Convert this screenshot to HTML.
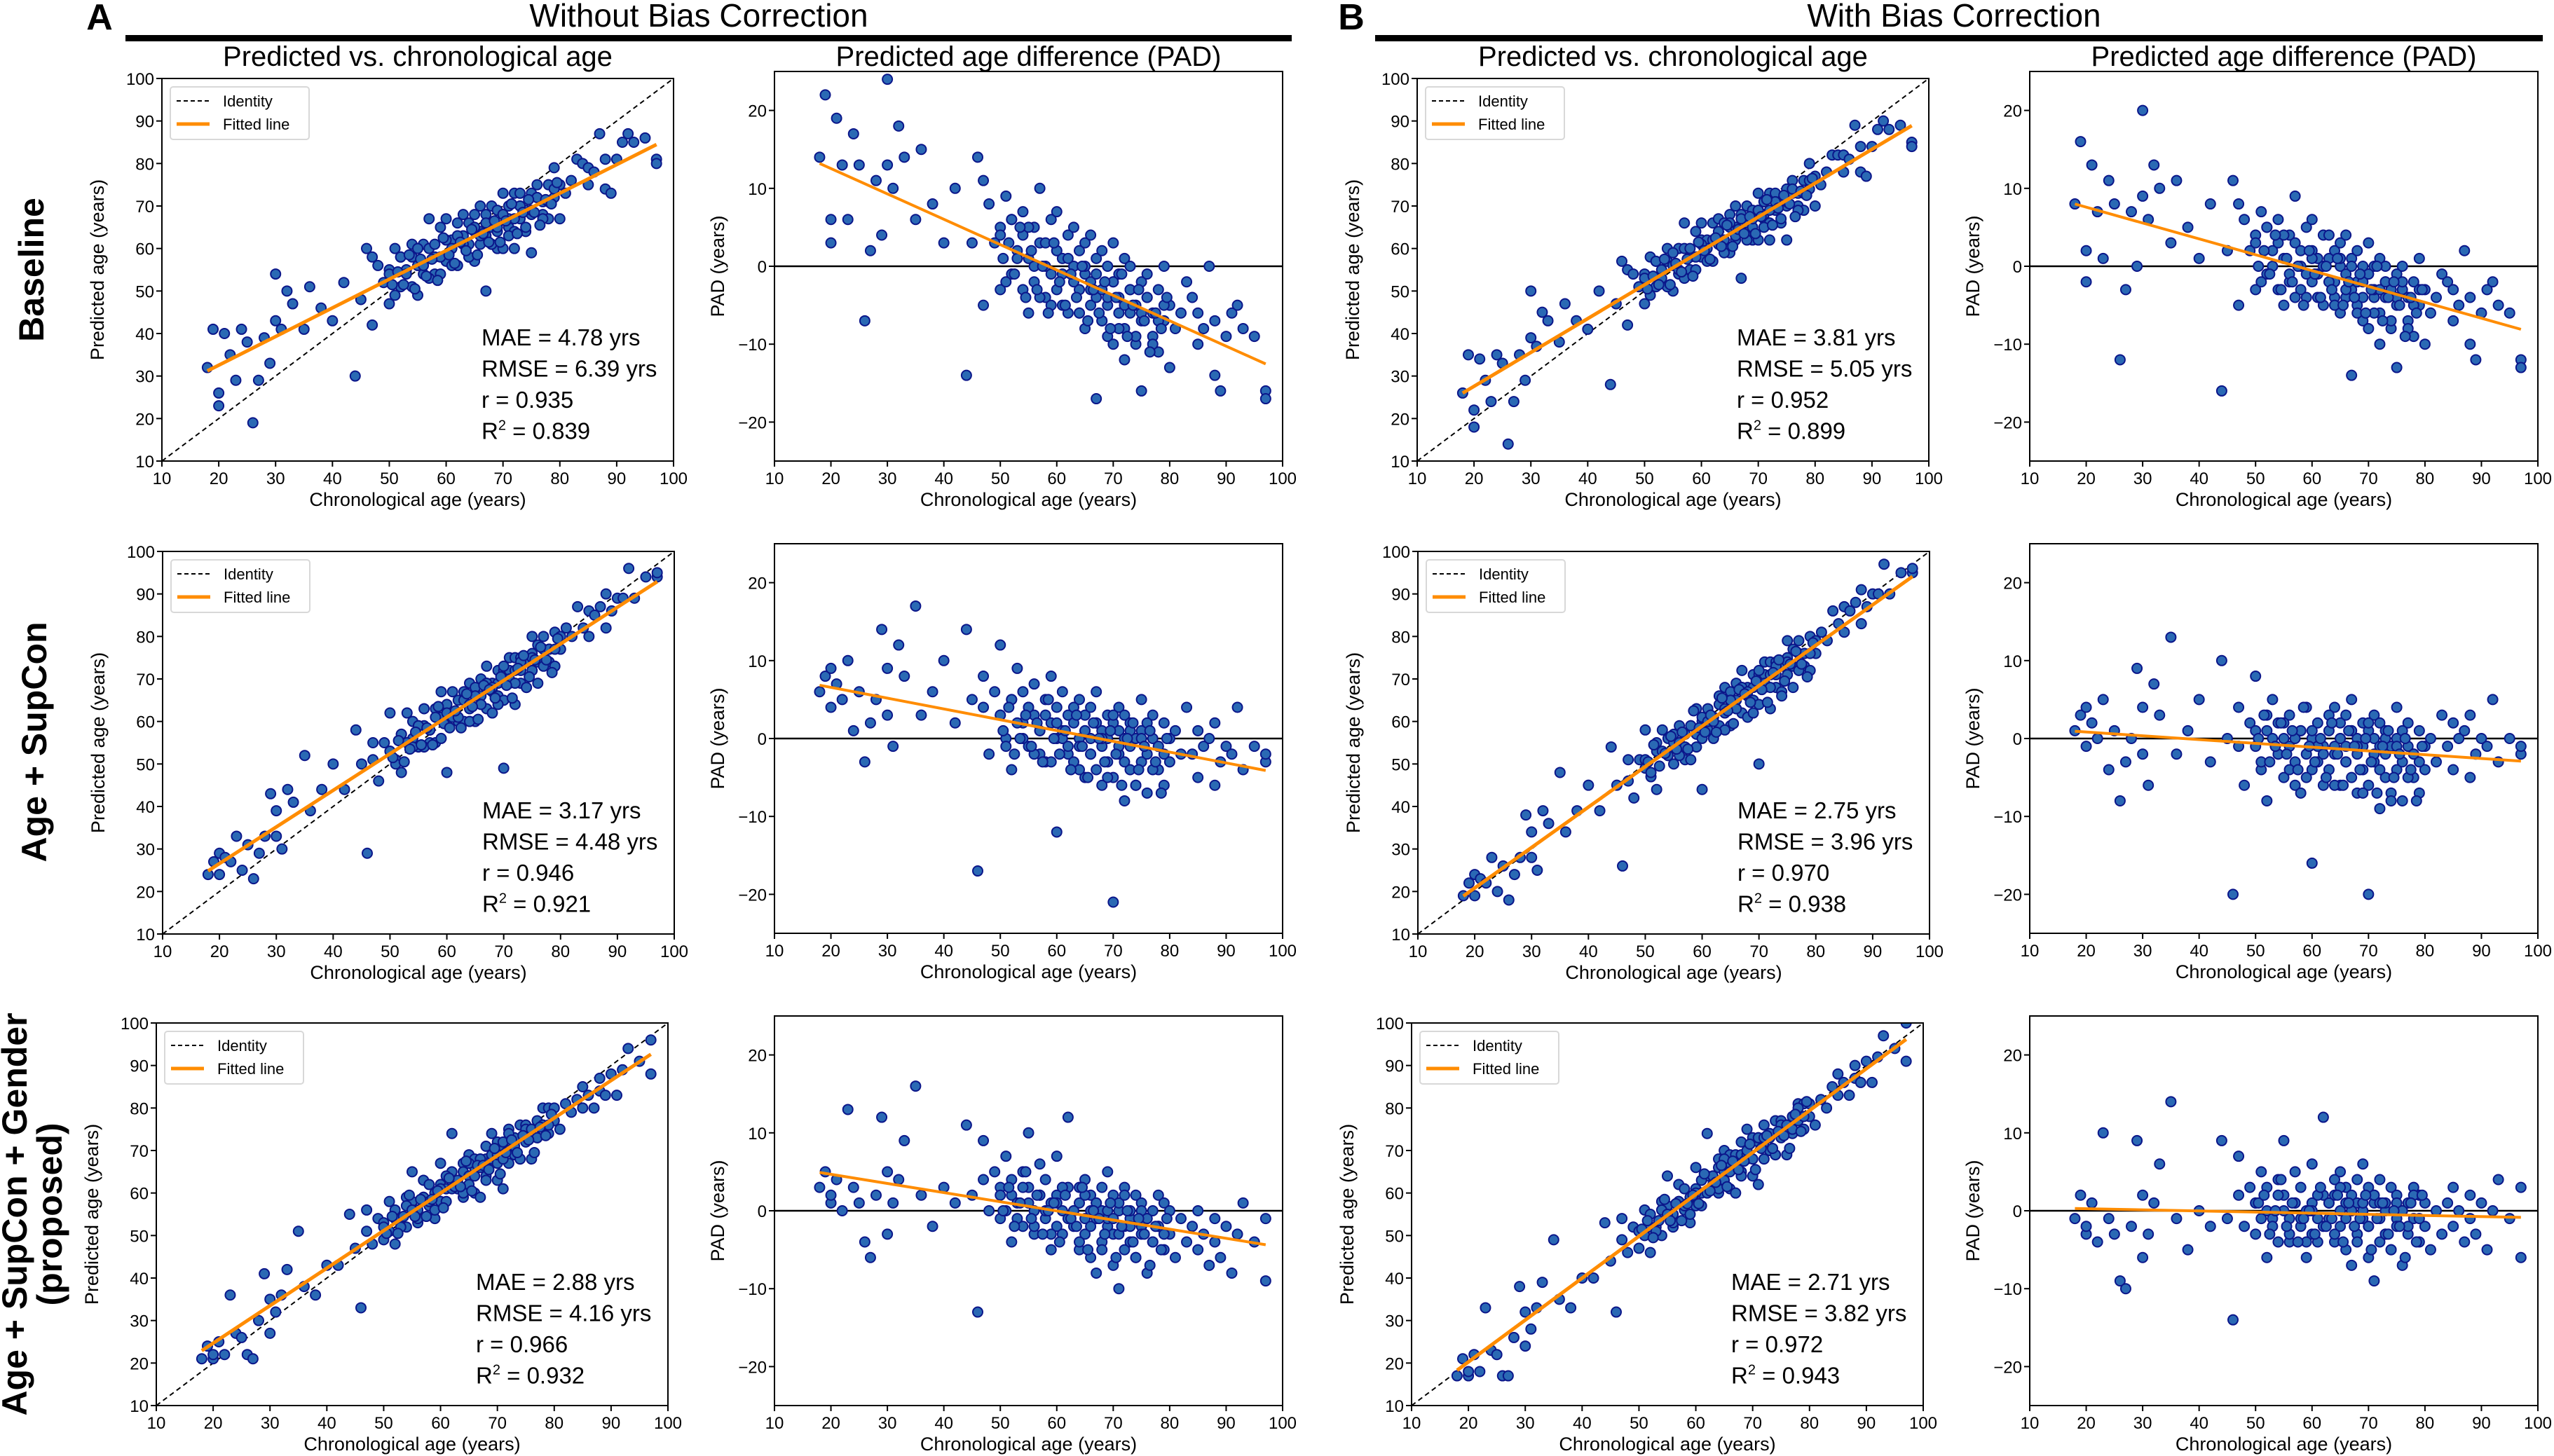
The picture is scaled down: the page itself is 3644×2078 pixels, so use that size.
<!DOCTYPE html>
<html><head><meta charset="utf-8">
<style>
html,body{margin:0;padding:0;background:#fff;}
svg{display:block;font-family:"Liberation Sans",sans-serif;}
</style></head>
<body>
<svg id="fig" width="3644" height="2078" viewBox="0 0 3644 2078" xmlns="http://www.w3.org/2000/svg">
  <g>
    <text x="142" y="42" font-size="52" font-weight="bold" text-anchor="middle">A</text>
    <text x="997" y="38" font-size="46" text-anchor="middle">Without Bias Correction</text>
    <rect x="179" y="50" width="1664" height="9" fill="#000"/>
  </g>
  <g>
    <text x="1928" y="42" font-size="52" font-weight="bold" text-anchor="middle">B</text>
    <text x="2788" y="38" font-size="46" text-anchor="middle">With Bias Correction</text>
    <rect x="1962" y="50" width="1666" height="9" fill="#000"/>
  </g>
  <text transform="translate(62,385) rotate(-90)" font-size="50" font-weight="bold" text-anchor="middle">Baseline</text>
  <text transform="translate(66,1059) rotate(-90)" font-size="50" font-weight="bold" text-anchor="middle">Age + SupCon</text>
  <text transform="translate(38,1733) rotate(-90)" font-size="50" font-weight="bold" text-anchor="middle">Age + SupCon + Gender</text>
  <text transform="translate(88,1733) rotate(-90)" font-size="50" font-weight="bold" text-anchor="middle">(proposed)</text>
  <g id="panels"></g>
</svg>
<script>
// ---- data (chronological ages shared by all models) ----
const ages = [18,19,20,20,21,22,23,24,25,26,27,28,29,30,30,31,32,33,35,36,38,40,42,44,45,
46,47,47,48,49,50,50,51,52,52,53,54,54,55,55,56,56,57,57,58,58,59,59,60,60,60,61,61,62,62,
63,63,64,64,64,65,65,65,66,66,66,67,67,67,68,68,68,69,69,69,70,70,70,71,71,71,72,72,72,73,73,73,74,74,75,75,75,76,76,77,77,78,78,79,79,80,80,81,82,83,
84,85,85,86,87,88,88,89,90,91,92,93,95,97,97,
50,51,52,53,54,55,56,57,58,59,60,61,62,63,64,65,66,67,68,69,70,71,72,73,74,75,76,77,78,79,
50.5,51.5,52.5,53.5,54.5,55.5,56.5,57.5,58.5,59.5,60.5,61.5,62.5,63.5,64.5,65.5,66.5,67.5,68.5,69.5,70.5,71.5,72.5,73.5,74.5,75.5,76.5,77.5,78.5,79.5];
// PAD (predicted - chronological), without bias correction
const padBaseline = [14,22,6,3,19,13,6,17,13,-7,2,11,4,24,13,10,18,14,6,15,8,3,10,-14,3,
14,-5,11,8,3,5,-3,9,6,-1,2,4,7,-6,1,5,-2,3,10,-4,0,6,-5,2,7,-3,1,-1,4,-6,
0,5,-3,2,-6,-1,3,-8,-2,4,-5,-17,1,-4,-7,2,-3,-9,0,-5,-2,-10,3,-6,-1,-4,-12,1,-8,-3,-6,0,-10,-5,-2,-7,-16,-4,-1,-9,-6,-3,-11,-7,0,-5,-13,-8,-6,-2,
-4,-10,-6,-8,0,-14,-7,-16,-9,-6,-5,-8,-9,-16,-17,
4,-2,6,1,-3,5,0,-4,3,-1,2,-5,1,-2,-6,0,-3,-1,-7,-4,-2,-8,-5,-3,-9,-6,-4,-10,-7,-5,
1,3,-1,5,-4,2,-3,0,-6,3,-2,-5,-1,-4,0,-7,-3,-6,-2,-8,-4,-1,-9,-5,-3,-7,-11,-6,-8,-4];
const padSupCon = [6,8,9,4,7,5,10,1,6,-3,2,5,14,3,9,-1,12,8,17,3,6,10,2,14,5,
-17,4,8,-2,6,12,3,0,5,-4,9,2,6,-1,4,7,3,-2,1,5,-3,2,8,0,-12,4,1,6,-2,3,
2,-3,5,0,-1,3,-5,1,4,-2,0,6,-4,2,-6,1,-1,3,-3,0,-21,2,-5,1,4,-2,0,-8,3,-1,-4,2,-6,0,1,-3,5,-2,-7,0,3,-4,-1,2,-6,0,-3,1,-2,4,
-2,1,-5,-1,0,-6,2,-3,-1,-2,4,-4,-1,-3,-2,
3,-1,5,2,0,4,-2,1,3,-3,2,0,-1,4,-4,1,-2,2,0,-5,3,-1,-3,1,-6,0,2,-4,-1,-2,
1,4,-2,0,3,-1,2,-3,5,0,-2,1,-4,3,-1,-5,2,0,-3,1,-2,-6,0,2,-4,-1,1,-3,-7,0];
const padProposed = [3,5,1,2,4,0,13,3,1,-4,-6,2,12,-3,5,1,4,9,16,2,-2,3,1,11,2,
-13,4,9,0,5,-1,3,7,2,-4,1,5,-2,3,10,0,-3,2,6,-1,4,-5,1,2,-2,7,0,-3,3,12,
0,-2,3,-5,1,-1,4,-3,0,2,-6,1,-8,-1,3,-4,0,-2,5,-1,-7,2,-3,0,-10,1,-2,3,-5,-1,0,-4,2,-6,-2,1,-3,-1,-8,0,-4,2,-2,-5,1,-3,0,-6,-1,-4,
-2,-5,0,-3,-7,-1,-4,-6,-2,-8,-3,1,-4,-9,-1,
2,0,4,-1,3,1,-2,2,0,-3,1,3,-1,0,-4,2,-2,1,-5,0,-1,-3,2,-2,-6,0,-1,-4,-2,-3,
0,3,-2,1,5,-1,2,-3,0,1,-4,2,-1,-2,3,-5,0,-1,-3,1,-6,-2,0,-4,-1,-3,-7,-2,-5,-1];
// PAD with bias correction
const padBaselineBC = [8,16,2,-2,13,7,1,11,8,-12,-3,7,0,20,9,6,13,10,3,11,5,1,8,-16,2,
11,-5,8,6,2,4,-3,7,5,-1,2,3,6,-5,1,4,-2,3,9,-3,0,5,-4,2,6,-2,1,-1,4,-5,
1,4,-2,2,-4,0,3,-6,-1,4,-4,-14,1,-3,-5,2,-2,-7,0,-4,-1,-8,3,-4,0,-3,-10,1,-6,-2,-4,0,-8,-3,-1,-5,-13,-3,0,-7,-4,-2,-9,-5,1,-3,-10,-6,-4,-1,
-2,-7,-3,-5,2,-10,-4,-12,-6,-3,-2,-5,-6,-12,-13,
3,-2,5,0,-3,4,-1,-4,2,-1,1,-4,0,-2,-5,1,-3,0,-6,-2,-1,-6,-3,-2,-7,-4,-2,-8,-5,-3,
0,2,-1,4,-3,1,-2,0,-5,2,-1,-4,0,-3,1,-5,-2,-4,-1,-6,-3,0,-7,-4,-2,-5,-9,-4,-6,-3];
const padSupConBC = [1,3,4,-1,2,0,5,-4,1,-8,-3,0,9,-2,4,-6,7,3,13,-2,1,5,-3,10,0,
-20,-1,4,-6,2,8,-1,-4,1,-8,5,-2,2,-5,0,3,-1,-6,-3,1,-7,-2,4,-4,-16,0,-3,2,-6,-1,
1,-4,4,-1,-2,2,-6,0,3,-3,-1,5,-5,1,-7,0,-2,2,-4,-1,-20,1,-6,0,3,-3,-1,-9,2,-2,-5,1,-7,-1,0,-4,4,-3,-8,-1,2,-5,-2,1,-7,-1,-4,0,-3,3,
-1,2,-4,0,1,-5,3,-2,0,-1,5,-3,0,-2,-1,
1,-3,3,0,-2,2,-4,0,1,-5,1,-1,-2,3,-6,0,-3,1,-1,-7,2,-2,-4,0,-8,-1,1,-5,-2,-3,
0,3,-3,-1,2,-2,1,-4,4,-1,-3,0,-5,2,-2,-6,1,-1,-4,0,-3,-7,-1,1,-5,-2,0,-4,-8,-1];
const padProposedBC = [-1,2,-3,-2,1,-4,10,-1,-3,-9,-10,-2,9,-6,2,-3,1,6,14,-1,-5,0,-2,9,-1,
-14,2,7,-2,3,-3,1,5,0,-6,-1,4,-4,2,9,-1,-4,1,5,-2,3,-6,0,1,-3,6,-1,-4,2,12,
1,-1,4,-4,2,0,5,-2,1,3,-5,2,-7,0,4,-3,1,-1,6,0,-6,3,-2,1,-9,2,-1,4,-4,0,1,-3,3,-5,-1,2,-2,0,-7,1,-3,3,-1,-4,2,-2,1,-5,0,-3,
1,-2,3,0,-4,2,-1,-3,1,-5,0,4,-1,-6,3,
1,-1,3,-2,2,0,-3,1,-1,-4,0,2,-2,1,-3,3,-1,0,-4,1,-2,2,1,-3,-5,1,0,-2,2,-1,
1,2,-3,0,4,-2,1,-4,-1,0,-3,3,-2,-1,2,-4,1,-2,-1,2,-5,-1,1,-3,0,-2,-6,1,-4,2];
const statsBaseline = ["MAE = 4.78 yrs","RMSE = 6.39 yrs","r = 0.935","0.839"];
const statsSupCon = ["MAE = 3.17 yrs","RMSE = 4.48 yrs","r = 0.946","0.921"];
const statsProposed = ["MAE = 2.88 yrs","RMSE = 4.16 yrs","r = 0.966","0.932"];
const statsBaselineBC = ["MAE = 3.81 yrs","RMSE = 5.05 yrs","r = 0.952","0.899"];
const statsSupConBC = ["MAE = 2.75 yrs","RMSE = 3.96 yrs","r = 0.970","0.938"];
const statsProposedBC = ["MAE = 2.71 yrs","RMSE = 3.82 yrs","r = 0.972","0.943"];
const xTicks = [10,20,30,40,50,60,70,80,90,100];
const yTicksScatter = [10,20,30,40,50,60,70,80,90,100];
const yTicksPad = [-20,-10,0,10,20];

const NS = "http://www.w3.org/2000/svg";
const root = document.getElementById('panels');
function mk(tag, attrs, parent){
  const e = document.createElementNS(NS, tag);
  for (const k in attrs) e.setAttribute(k, attrs[k]);
  (parent||root).appendChild(e);
  return e;
}
function fit(xs, ys){
  const n = xs.length; let mx=0,my=0;
  for(let i=0;i<n;i++){mx+=xs[i];my+=ys[i];} mx/=n; my/=n;
  let sxy=0,sxx=0;
  for(let i=0;i<n;i++){sxy+=(xs[i]-mx)*(ys[i]-my);sxx+=(xs[i]-mx)**2;}
  const b=sxy/sxx; return [my-b*mx, b];
}
const FILL="#2a69b4", EDGE="#0b168a", ORANGE="#ff8c00";

function scatterPanel(L, T, pads, stats, key, showTitle){
  const W=730, H=546;
  const g = mk('g', {});
  
  
  const sx = v => L + (v-10)/90*W;
  const sy = v => T + H - (v-10)/90*H;
  if(showTitle){
    const t = mk('text',{x:L+W/2,y:T-18,'font-size':40,'text-anchor':'middle'},g);
    t.textContent='Predicted vs. chronological age';
    
    
  }
  const clipId='c'+key;
  const cp = mk('clipPath',{id:clipId},g); mk('rect',{x:L,y:T,width:W,height:H},cp);
  const id = mk('line',{x1:sx(10),y1:sy(10),x2:sx(100),y2:sy(100),stroke:'#000','stroke-width':2,'stroke-dasharray':'7,5'},g);
  
  
  const pg = mk('g',{'clip-path':'url(#'+clipId+')'},g);
  const preds = ages.map((a,i)=>a+pads[i]);
  for(let i=0;i<ages.length;i++){
    const c = mk('circle',{cx:sx(ages[i]),cy:sy(preds[i]),r:7,fill:FILL,stroke:EDGE,'stroke-width':2},pg);
    
    
  }
  const [a,b] = fit(ages,preds);
  const x0=Math.min(...ages), x1=Math.max(...ages);
  const fl = mk('line',{x1:sx(x0),y1:sy(a+b*x0),x2:sx(x1),y2:sy(a+b*x1),stroke:ORANGE,'stroke-width':5},g);
  
  
  axes(g,L,T,W,H,sx,sy,yTicksScatter,'Predicted age (years)',L-83);
  const lg = mk('g',{},g);
  
  
  mk('rect',{x:L+12,y:T+12,width:198,height:75,rx:4,fill:'#fff',stroke:'#d8d8d8','stroke-width':2},lg);
  mk('line',{x1:L+21,y1:T+32,x2:L+68,y2:T+32,stroke:'#000','stroke-width':2,'stroke-dasharray':'6,4'},lg);
  const t1=mk('text',{x:L+87,y:T+40,'font-size':22},lg); t1.textContent='Identity';
  mk('line',{x1:L+21,y1:T+65,x2:L+68,y2:T+65,stroke:ORANGE,'stroke-width':5},lg);
  const t2=mk('text',{x:L+87,y:T+73,'font-size':22},lg); t2.textContent='Fitted line';
  const st = mk('g',{'font-size':33},g);
  
  
  const tx=L+456, by=T+381;
  for(let k=0;k<3;k++){ const t=mk('text',{x:tx,y:by+k*44.5},st); t.textContent=stats[k]; }
  const r2=mk('text',{x:tx,y:by+3*44.5},st);
  r2.innerHTML='R<tspan font-size="20" dy="-13">2</tspan><tspan dy="13"> = '+stats[3]+'</tspan>';
}

function padPanel(L, T, pads, key, showTitle){
  const W=725, H=556;
  const g = mk('g', {});
  
  
  const sx = v => L + (v-10)/90*W;
  const sy = v => T + H - (v+25)/50*H;
  if(showTitle){
    const t = mk('text',{x:L+W/2,y:T-8,'font-size':40,'text-anchor':'middle'},g);
    t.textContent='Predicted age difference (PAD)';
    
    
  }
  const z = mk('line',{x1:L,y1:sy(0),x2:L+W,y2:sy(0),stroke:'#000','stroke-width':2.5},g);
  
  
  for(let i=0;i<ages.length;i++){
    const c = mk('circle',{cx:sx(ages[i]),cy:sy(pads[i]),r:7,fill:FILL,stroke:EDGE,'stroke-width':2},g);
    
    
  }
  const [a,b] = fit(ages,pads);
  const x0=Math.min(...ages), x1=Math.max(...ages);
  const fl = mk('line',{x1:sx(x0),y1:sy(a+b*x0),x2:sx(x1),y2:sy(a+b*x1),stroke:ORANGE,'stroke-width':4},g);
  
  
  axes(g,L,T,W,H,sx,sy,yTicksPad,'PAD (years)',L-72);
}

function axes(g,L,T,W,H,sx,sy,yt,ylabel,ylx){
  const ax = mk('g',{},g);
  
  
  mk('rect',{x:L,y:T,width:W,height:H,fill:'none',stroke:'#000','stroke-width':2},ax);
  xTicks.forEach(v=>{
    mk('line',{x1:sx(v),y1:T+H,x2:sx(v),y2:T+H+8,stroke:'#000','stroke-width':2},ax);
    const t=mk('text',{x:sx(v),y:T+H+33,'font-size':24,'text-anchor':'middle'},ax); t.textContent=v;
  });
  yt.forEach(v=>{
    mk('line',{x1:L-8,y1:sy(v),x2:L,y2:sy(v),stroke:'#000','stroke-width':2},ax);
    const t=mk('text',{x:L-11,y:sy(v)+9,'font-size':24,'text-anchor':'end'},ax); t.textContent=(v<0?'\u2212'+(-v):v);
  });
  const xl=mk('text',{x:L+W/2,y:T+H+64,'font-size':27,'text-anchor':'middle'},ax); xl.textContent='Chronological age (years)';
  const yl=mk('text',{transform:'translate('+ylx+','+(T+H/2)+') rotate(-90)','font-size':27,'text-anchor':'middle'},ax); yl.textContent=ylabel;
}

scatterPanel(231,112,padBaseline,statsBaseline,'a-baseline',true);
padPanel(1105,102,padBaseline,'a-baseline',true);
scatterPanel(232,787,padSupCon,statsSupCon,'a-supcon',false);
padPanel(1105,776,padSupCon,'a-supcon',false);
scatterPanel(223,1460,padProposed,statsProposed,'a-proposed',false);
padPanel(1105,1450,padProposed,'a-proposed',false);
scatterPanel(2022,112,padBaselineBC,statsBaselineBC,'b-baseline',true);
padPanel(2896,102,padBaselineBC,'b-baseline',true);
scatterPanel(2023,787,padSupConBC,statsSupConBC,'b-supcon',false);
padPanel(2896,776,padSupConBC,'b-supcon',false);
scatterPanel(2014,1460,padProposedBC,statsProposedBC,'b-proposed',false);
padPanel(2896,1450,padProposedBC,'b-proposed',false);
</script>
</body></html>
